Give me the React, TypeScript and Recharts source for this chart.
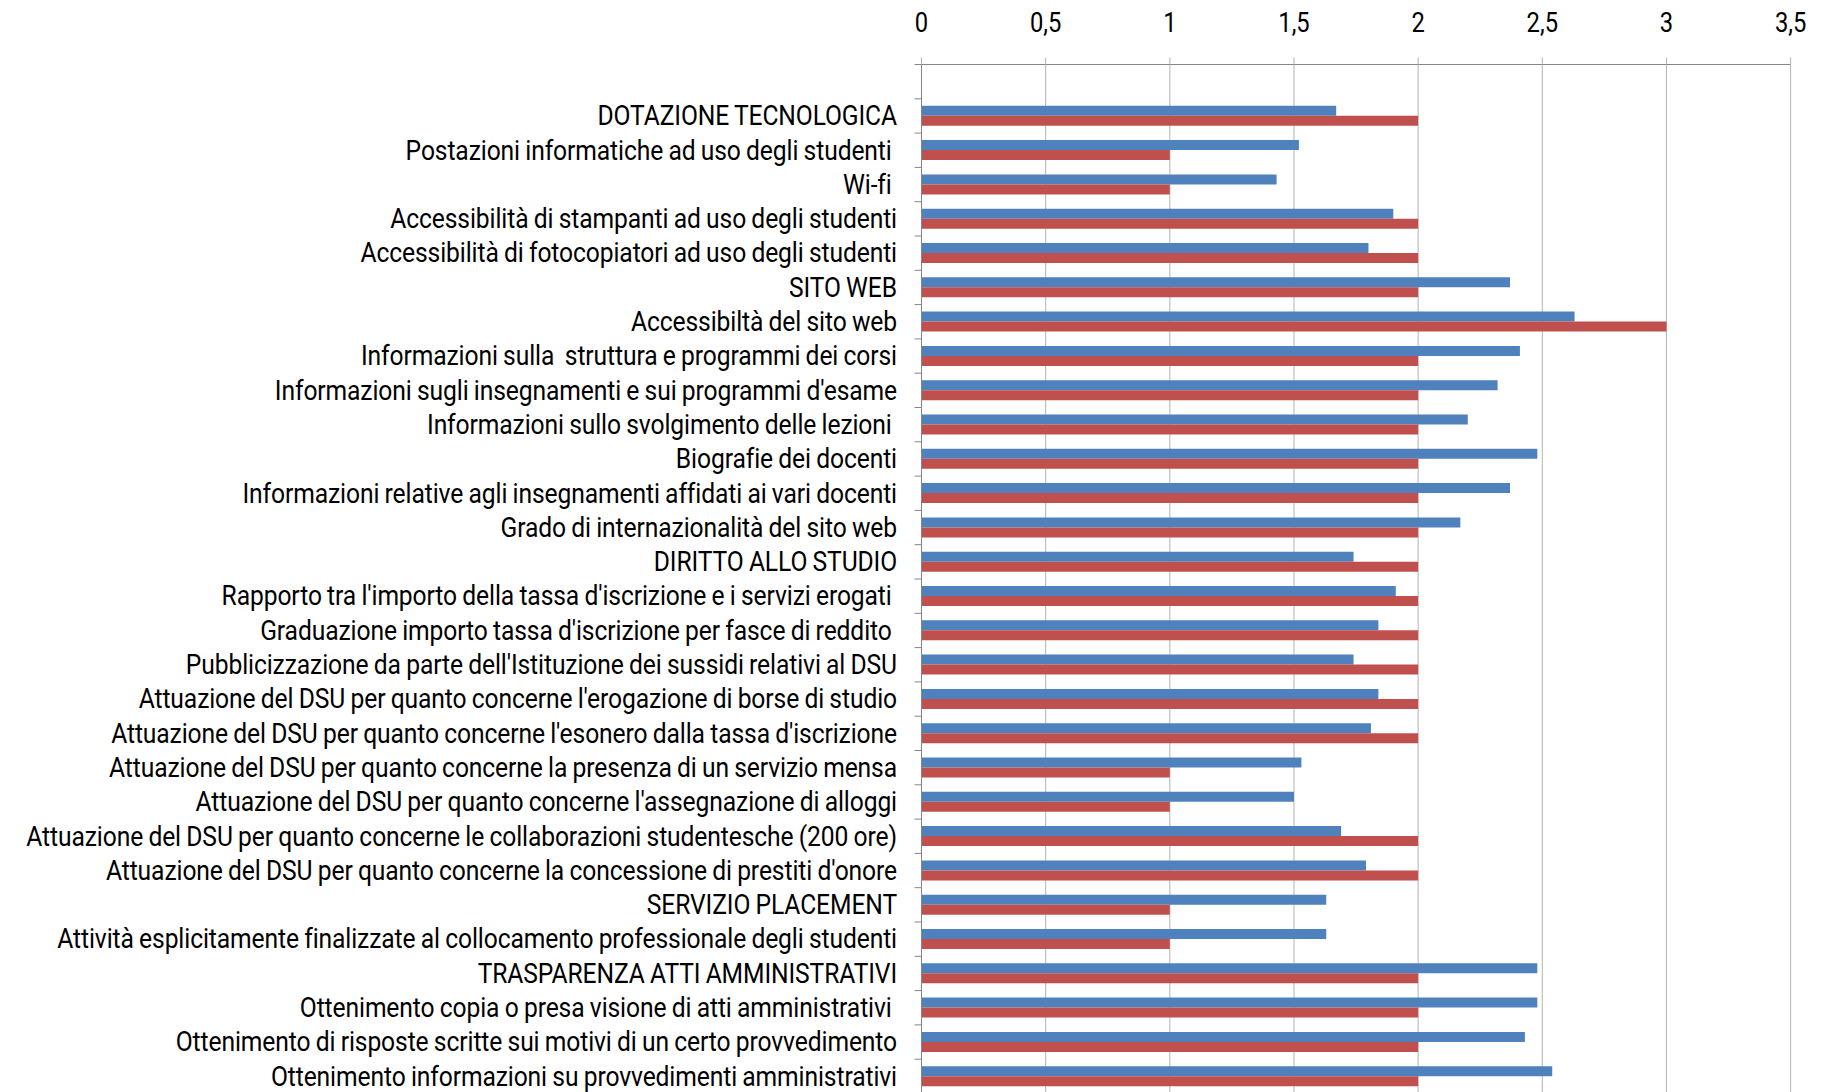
import React from 'react';
import { BarChart, Bar, XAxis, YAxis, CartesianGrid } from 'recharts';

const categories = [
  'DOTAZIONE TECNOLOGICA',
  'Postazioni informatiche ad uso degli studenti ',
  'Wi-fi ',
  'Accessibilità di stampanti ad uso degli studenti',
  'Accessibilità di fotocopiatori ad uso degli studenti',
  'SITO WEB',
  'Accessibiltà del sito web',
  'Informazioni sulla  struttura e programmi dei corsi',
  "Informazioni sugli insegnamenti e sui programmi d'esame",
  'Informazioni sullo svolgimento delle lezioni ',
  'Biografie dei docenti',
  'Informazioni relative agli insegnamenti affidati ai vari docenti',
  'Grado di internazionalità del sito web',
  'DIRITTO ALLO STUDIO',
  "Rapporto tra l'importo della tassa d'iscrizione e i servizi erogati ",
  "Graduazione importo tassa d'iscrizione per fasce di reddito ",
  "Pubblicizzazione da parte dell'Istituzione dei sussidi relativi al DSU",
  "Attuazione del DSU per quanto concerne l'erogazione di borse di studio",
  "Attuazione del DSU per quanto concerne l'esonero dalla tassa d'iscrizione",
  'Attuazione del DSU per quanto concerne la presenza di un servizio mensa',
  "Attuazione del DSU per quanto concerne l'assegnazione di alloggi",
  'Attuazione del DSU per quanto concerne le collaborazioni studentesche (200 ore)',
  "Attuazione del DSU per quanto concerne la concessione di prestiti d'onore",
  'SERVIZIO PLACEMENT',
  'Attività esplicitamente finalizzate al collocamento professionale degli studenti',
  'TRASPARENZA ATTI AMMINISTRATIVI',
  'Ottenimento copia o presa visione di atti amministrativi ',
  'Ottenimento di risposte scritte sui motivi di un certo provvedimento',
  'Ottenimento informazioni su provvedimenti amministrativi',
];

const mediaValues = [
  1.67, 1.52, 1.43, 1.9, 1.8, 2.37, 2.63, 2.41, 2.32, 2.2, 2.48, 2.37, 2.17, 1.74,
  1.91, 1.84, 1.74, 1.84, 1.81, 1.53, 1.5, 1.69, 1.79, 1.63, 1.63, 2.48, 2.48, 2.43, 2.54,
];

const medianaValues = [
  2, 1, 1, 2, 2, 2, 3, 2, 2, 2, 2, 2, 2, 2,
  2, 2, 2, 2, 2, 1, 1, 2, 2, 1, 1, 2, 2, 2, 2,
];

const valueTicks = [0, 0.5, 1, 1.5, 2, 2.5, 3, 3.5];

// first row is the empty slot under the value axis
const rows = [
  { name: '', media: null, mediana: null },
  ...categories.map((name, i) => ({ name, media: mediaValues[i], mediana: medianaValues[i] })),
];

const W = 1827;
const H = 1100;
const MARGIN = { top: 0, right: 36.4, bottom: 6.5, left: 0 };
const X_AXIS_H = 64.5;
const Y_AXIS_W = 921.5;
const BAND = (H - MARGIN.top - MARGIN.bottom - X_AXIS_H) / rows.length;

const FONT = 'Roboto, "Liberation Sans", Arial, sans-serif';
const SQUEEZE = 0.88;
const AXIS = '#868686';
const GRID = '#b3b3b3';

const ValueTick = ({ x, y, payload }: any) => (
  <text
    transform={`translate(${x},${y}) scale(${SQUEEZE},1)`}
    textAnchor="middle"
    fontFamily={FONT}
    fontSize={27}
    fill="#000"
  >
    {String(payload.value).replace('.', ',')}
  </text>
);

const CategoryTick = ({ x, y, payload }: any) => (
  <g>
    <line x1={x + 17.5} x2={x + 24.5} y1={y - BAND / 2} y2={y - BAND / 2} stroke={AXIS} />
    <text
      transform={`translate(${x},${y}) scale(${SQUEEZE},1)`}
      textAnchor="end"
      dy="0.33em"
      fontFamily={FONT}
      fontSize={28}
      letterSpacing={-0.12}
      wordSpacing={-0.8}
      fill="#000"
      style={{ whiteSpace: 'pre' }}
    >
      {payload.value}
    </text>
  </g>
);

export default function App() {
  return (
    <div style={{ position: 'absolute', left: 0, top: 0, width: W, height: 1092, overflow: 'hidden', background: '#fff' }}>
      <BarChart
        width={W}
        height={H}
        data={rows}
        layout="vertical"
        margin={MARGIN}
        barSize={10}
        barGap={0}
      >
        <CartesianGrid horizontal={false} stroke={GRID} />
        <XAxis
          type="number"
          orientation="top"
          domain={[0, 3.5]}
          ticks={valueTicks}
          height={X_AXIS_H}
          stroke={AXIS}
          tickSize={7}
          tickMargin={26}
          tick={<ValueTick />}
          tickLine={{ stroke: GRID }}
          interval={0}
        />
        <YAxis
          type="category"
          dataKey="name"
          width={Y_AXIS_W}
          stroke={AXIS}
          tickSize={7}
          tickMargin={17.5}
          tickLine={false}
          tick={<CategoryTick />}
          interval={0}
        />
        <Bar dataKey="media" fill="#4F81BD" isAnimationActive={false} />
        <Bar dataKey="mediana" fill="#C0504D" isAnimationActive={false} />
      </BarChart>
    </div>
  );
}
